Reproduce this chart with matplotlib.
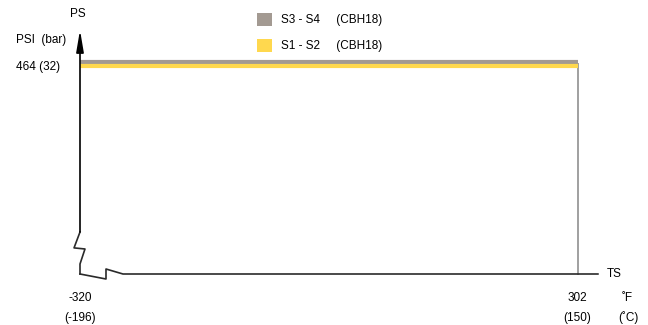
import matplotlib
matplotlib.use("Agg")
import matplotlib.pyplot as plt
from matplotlib.patches import Patch
from matplotlib import transforms

plt.rcParams["font.family"] = ["Liberation Sans", "DejaVu Sans"]

# data
series_labels = ["S3 - S4     (CBH18)", "S1 - S2     (CBH18)"]
series_colors = ["#a39a92", "#ffd84e"]
temp_min_f, temp_max_f = -320, 302
temp_min_c, temp_max_c = -196, 150
pressure_psi, pressure_bar = 464, 32

W, H = 648, 325
fig = plt.figure(figsize=(W / 100, H / 100), dpi=100)
# axes spans from x=-320 to x=302, y from axis line to arrow tip
ax = fig.add_axes([80 / W, (H - 274) / H, 498 / W, 244 / H])
ax.set_xlim(temp_min_f, temp_max_f)
ax.set_ylim(0, 540)
ax.axis("off")

# pressure bands, gray on top of yellow
for i, col in enumerate(series_colors):
    off = transforms.offset_copy(ax.transData, fig=fig, x=0, y=(1.4 - 2.8 * i), units="points")
    ax.plot([temp_min_f, temp_max_f], [pressure_psi, pressure_psi], color=col,
            lw=3.0, solid_capstyle="butt", transform=off, clip_on=False)

# vertical limit line at max temperature
ax.plot([temp_max_f, temp_max_f], [0, pressure_psi], color="#a0a0a0", lw=1.4,
        clip_on=False, zorder=1)

# axes with break marks
k = "#2a2a2a"
ax.plot([0, -0.012, 0.010, 0, 0], [0.172, 0.107, 0.1025, 0.041, 0], color=k, lw=1.2,
        transform=ax.transAxes, clip_on=False)
ax.plot([0, 0.0522, 0.0522, 0.0863, 1.040], [0, -0.0205, 0.0205, 0, 0], color=k, lw=1.2,
        transform=ax.transAxes, clip_on=False)
ax.annotate("", xy=(0, 1.0), xytext=(0, 0.172), xycoords="axes fraction",
            arrowprops=dict(arrowstyle="-|>,head_length=1.3,head_width=0.22",
                            color="black", lw=1.2, shrinkA=0, shrinkB=0))

fs = 8.5
fig.text(78 / W, 1 - 14 / H, "PS", ha="center", va="center", fontsize=fs)
fig.text(16 / W, 1 - 40 / H, "PSI  (bar)", ha="left", va="center", fontsize=fs)
fig.text(16 / W, 1 - 67 / H, f"{pressure_psi} ({pressure_bar})", ha="left", va="center", fontsize=fs)
fig.text(80 / W, 1 - 298 / H, f"{temp_min_f}", ha="center", va="center", fontsize=fs)
fig.text(80 / W, 1 - 318 / H, f"({temp_min_c})", ha="center", va="center", fontsize=fs)
fig.text(577 / W, 1 - 298 / H, f"{temp_max_f}", ha="center", va="center", fontsize=fs)
fig.text(577 / W, 1 - 318 / H, f"({temp_max_c})", ha="center", va="center", fontsize=fs)
fig.text(614 / W, 1 - 274 / H, "TS", ha="center", va="center", fontsize=fs)
fig.text(627 / W, 1 - 298 / H, "˚F", ha="center", va="center", fontsize=fs)
fig.text(628 / W, 1 - 318 / H, "(˚C)", ha="center", va="center", fontsize=fs)

handles = [Patch(facecolor=c, edgecolor="none") for c in series_colors]
fig.legend(handles, series_labels, loc="upper left", bbox_to_anchor=(257 / W, 1 - 13 / H),
           frameon=False, fontsize=fs, handlelength=1.3, handleheight=1.3,
           handletextpad=0.7, labelspacing=1.05, borderpad=0, borderaxespad=0)

fig.savefig("out.png", dpi=100)
